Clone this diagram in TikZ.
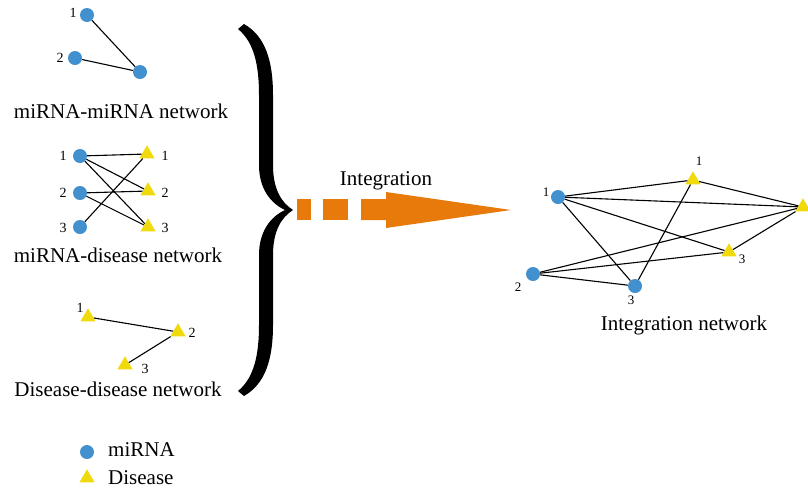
\documentclass[tikz,border=0pt]{standalone}
\usepackage{fontspec}
\setmainfont{Liberation Serif}
\usetikzlibrary{shapes.geometric}

\definecolor{mirnablue}{RGB}{66,144,206}
\definecolor{diseaseyellow}{RGB}{240,218,12}
\definecolor{flowcolor}{RGB}{232,122,12}

\tikzset{
  mirna/.style={circle, fill=mirnablue, draw=none, minimum size=14pt, inner sep=0pt},
  disease/.style={regular polygon, regular polygon sides=3, fill=diseaseyellow,
                  draw=none, minimum size=17.5pt, inner sep=0pt},
  num/.style={font=\fontsize{14}{16}\selectfont, inner sep=0pt},
  numsmall/.style={font=\fontsize{13}{15}\selectfont, inner sep=0pt},
  caption/.style={font=\fontsize{21}{25}\selectfont, anchor=base, inner sep=0pt},
  link/.style={draw=black, line width=1.1pt},
}

\begin{document}
\begin{tikzpicture}[x=1pt, y=-1pt]
\useasboundingbox (0,0) rectangle (808,491);

% ---------- miRNA-miRNA network ----------
\node[mirna] (mm1) at (87,15) {};
\node[mirna] (mm2) at (75,58) {};
\node[mirna] (mm3) at (140,72) {};
\node[num] (lmm1) at (73,13) {1};
\node[num] (lmm2) at (60,58) {2};
\draw[link] (mm1) -- (mm3);
\draw[link] (mm2) -- (mm3);
\node[caption] (capmm) at (121,118) {miRNA-miRNA network};

% ---------- miRNA-disease network ----------
\node[mirna] (md1) at (80,156) {};
\node[mirna] (md2) at (80,193) {};
\node[mirna] (md3) at (80,227) {};
\node[disease] (dd1) at (147,154) {};
\node[disease] (dd2) at (148,191) {};
\node[disease] (dd3) at (148,227) {};
\node[num] (lmd1) at (63,156) {1};
\node[num] (lmd2) at (63,193) {2};
\node[num] (lmd3) at (63,228) {3};
\node[num] (ldd1) at (165,156) {1};
\node[num] (ldd2) at (165,193) {2};
\node[num] (ldd3) at (165,228) {3};
\draw[link] (md1) -- (dd1);
\draw[link] (md1) -- (dd2);
\draw[link] (md1) -- (dd3);
\draw[link] (md2) -- (dd2);
\draw[link] (md2) -- (dd3);
\draw[link] (md3) -- (dd1);
\node[caption] (capmd) at (118,262) {miRNA-disease network};

% ---------- Disease-disease network ----------
\node[disease] (ds1) at (88,317) {};
\node[disease] (ds2) at (178,332) {};
\node[disease] (ds3) at (125,365) {};
\node[num] (lds1) at (80,308) {1};
\node[num] (lds2) at (192,333) {2};
\node[num] (lds3) at (145,369) {3};
\draw[link] (ds1) -- (ds2);
\draw[link] (ds2) -- (ds3);
\node[caption] (capdd) at (118,396) {Disease-disease network};

% ---------- legend ----------
\node[mirna] (legm) at (87,452) {};
\node[disease] (legd) at (87,478) {};
\node[caption, anchor=base west] (leglm) at (108,456) {miRNA};
\node[caption, anchor=base west] (legld) at (108,484) {Disease};

% ---------- brace ----------
\fill[black]
  (238,29) -- (244,24)
  .. controls (265,36) and (273,60) .. (273,95)
  -- (273,165)
  .. controls (273,190) and (282,203) .. (293,210)
  .. controls (282,217) and (273,230) .. (273,255)
  -- (273,325)
  .. controls (273,360) and (265,384) .. (244,396)
  -- (238,391)
  .. controls (254,378) and (259,355) .. (259,325)
  -- (259,255)
  .. controls (259,232) and (270,217) .. (285,210)
  .. controls (270,203) and (259,188) .. (259,165)
  -- (259,95)
  .. controls (259,65) and (254,42) .. (238,29) -- cycle;

% ---------- integration arrow ----------
\fill[flowcolor] (297,199) rectangle (311,220);
\fill[flowcolor] (323,199) rectangle (348,220);
\fill[flowcolor] (361,199) -- (386,199) -- (386,192) -- (511,210)
  -- (386,228) -- (386,220) -- (361,220) -- cycle;
\node[caption] (capint) at (386,185) {Integration};

% ---------- integration network ----------
\node[mirna] (im1) at (558,197) {};
\node[mirna] (im2) at (533,274) {};
\node[mirna] (im3) at (635,286) {};
\node[disease] (id1) at (693,180) {};
\node[disease] (id2) at (803,207) {};
\node[disease] (id3) at (729,252) {};
\node[numsmall] (lim1) at (546,192) {1};
\node[numsmall] (lim2) at (518,287) {2};
\node[numsmall] (lim3) at (631,300) {3};
\node[numsmall] (lid1) at (699,161) {1};
\node[numsmall] (lid3) at (742,259) {3};
\draw[link] (im1) -- (id1);
\draw[link] (im1) -- (id2);
\draw[link] (im1) -- (id3);
\draw[link] (im1) -- (im3);
\draw[link] (id1) -- (id2);
\draw[link] (id1) -- (im3);
\draw[link] (id2) -- (id3);
\draw[link] (im2) -- (id2);
\draw[link] (im2) -- (id3);
\draw[link] (im2) -- (im3);
\node[caption] (capin) at (684,330) {Integration network};

\end{tikzpicture}
\end{document}
